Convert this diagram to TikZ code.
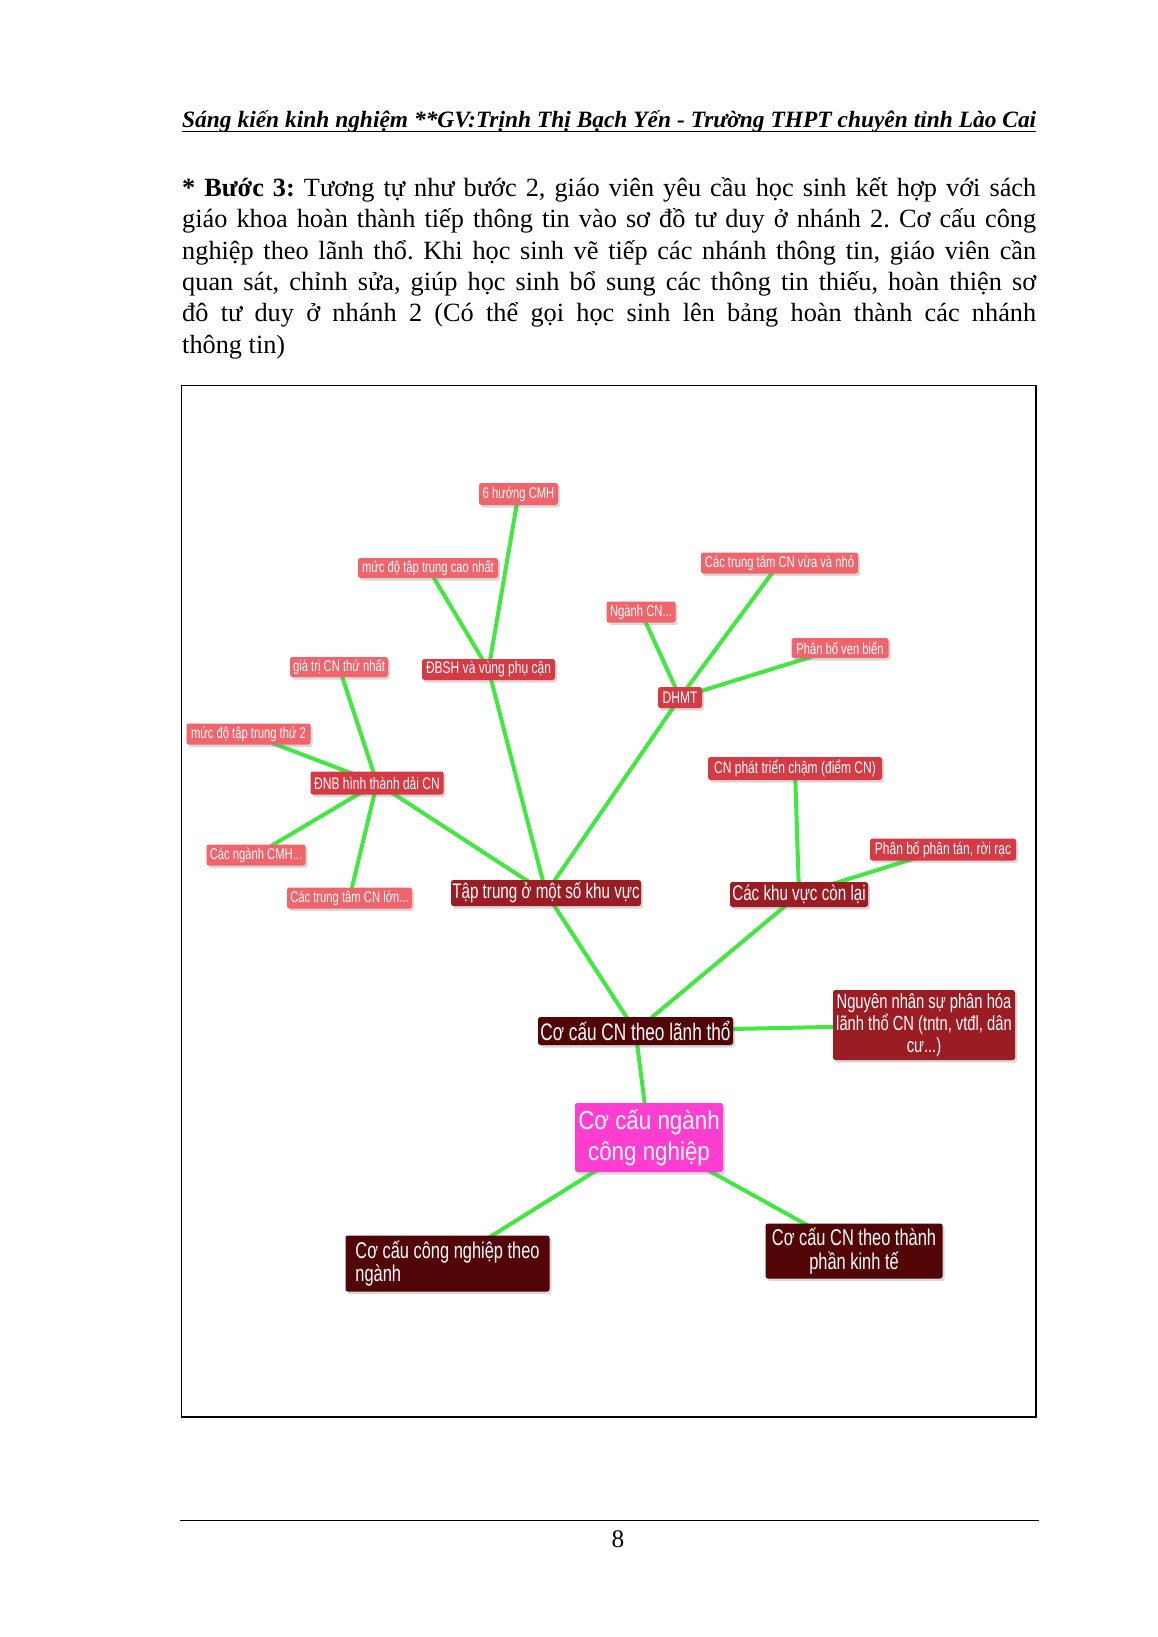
\documentclass[tikz,border=0pt]{standalone}
\usepackage{fontspec}
\setmainfont{Liberation Serif}
\newfontfamily\nar[FakeStretch=0.72]{Liberation Sans}
\newfontfamily\narm[FakeStretch=0.86]{Liberation Sans}
\usetikzlibrary{shadows,backgrounds}
\definecolor{lightred}{HTML}{F0646C}
\definecolor{medred}{HTML}{D63A44}
\definecolor{darkred}{HTML}{9B1D23}
\definecolor{vdark}{HTML}{520507}
\definecolor{mag}{HTML}{FF3DD0}
\definecolor{lgreen}{HTML}{40E840}
\tikzset{
  mbox/.style={rounded corners=2.5pt, text=white, inner sep=0pt,
    drop shadow={shadow xshift=2pt, shadow yshift=-2.5pt, opacity=0.3}},
  lt/.style={mbox, fill=lightred, font=\nar\fontsize{15.6}{17}\selectfont},
  md/.style={mbox, fill=medred, font=\nar\fontsize{16.7}{18}\selectfont},
  dk/.style={mbox, fill=darkred, font=\nar\fontsize{21.1}{23}\selectfont},
  vd/.style={mbox, fill=vdark},
  link/.style={draw=lgreen, line width=4pt},
  sz/.style 2 args={minimum width=#1pt, minimum height=#2pt},
  bodyline/.style={anchor=base west, inner sep=0pt, font=\fontsize{26.3}{31.3}\selectfont\frenchspacing},
}
\begin{document}
\begin{tikzpicture}[x=1pt,y=-1pt]
\useasboundingbox (0,0) rectangle (1158,1637);
\begin{scope}[on background layer]
\fill[white] (0,0) rectangle (1158,1637);
\end{scope}

% header
\node[anchor=base west, inner sep=0pt, font=\fontsize{23.4}{28}\selectfont\bfseries\itshape] (hdr) at (182,128)
  {\makebox[854pt][s]{Sáng kiến kinh nghiệm **GV:Trịnh Thị Bạch Yến - Trường THPT chuyên tỉnh Lào Cai}};
\draw[line width=1.3pt] ([yshift=-3.5pt]hdr.base west) -- ([yshift=-3.5pt]hdr.base east);

% body text
\node[bodyline] (b1) at (182,196.5) {\makebox[854pt][s]{\textbf{* Bước 3:} Tương tự như bước 2, giáo viên yêu cầu học sinh kết hợp với sách}};
\node[bodyline] (b2) at (182,227.8) {\makebox[854pt][s]{giáo khoa hoàn thành tiếp thông tin vào sơ đồ tư duy ở nhánh 2. Cơ cấu công}};
\node[bodyline] (b3) at (182,259.1) {\makebox[854pt][s]{nghiệp theo lãnh thổ. Khi học sinh vẽ tiếp các nhánh thông tin, giáo viên cần}};
\node[bodyline] (b4) at (182,290.4) {\makebox[854pt][s]{quan sát, chỉnh sửa, giúp học sinh bổ sung các thông tin thiếu, hoàn thiện sơ}};
\node[bodyline] (b5) at (182,321.7) {\makebox[854pt][s]{đô tư duy ở nhánh 2 (Có thể gọi học sinh lên bảng hoàn thành các nhánh}};
\node[bodyline] (b6) at (182,353) {thông tin)};

% frame
\draw[line width=1.5pt] (181.7,385.3) rectangle (1035.9,1417);

% footer
\draw[line width=1.2pt] (179.6,1520.4) -- (1039,1520.4);
\node[anchor=base, inner sep=0pt, font=\fontsize{25.3}{30}\selectfont] (pg) at (618,1547.5) {8};

% mind map nodes
\node[lt, sz={79}{22}] (n6h) at (518.5,494) {6 hướng CMH};
\node[lt, sz={140}{20}] (nmuc1) at (428,568) {mức độ tập trung cao nhất};
\node[md, sz={133}{21}] (nbsh) at (488.5,669.5) {ĐBSH và vùng phụ cận};
\node[lt, sz={98}{20}] (ngt) at (339,667) {giá trị CN thứ nhất};
\node[md, sz={44}{21}] (ndhmt) at (680,697.5) {DHMT};
\node[lt, sz={69}{21}] (nnganh) at (641,612) {Ngành CN...};
\node[lt, sz={157}{21}] (nvua) at (779.5,563) {Các trung tâm CN vừa và nhỏ};
\node[lt, sz={97}{20}] (nven) at (840,648) {Phân bố ven biển};
\node[lt, sz={124}{21}] (nmuc2) at (248.5,734) {mức độ tập trung thứ 2};
\node[md, sz={133}{23}] (ndnb) at (377,783) {ĐNB hình thành dải CN};
\node[lt, sz={99}{21}] (ncmh) at (256,855) {Các ngành CMH...};
\node[lt, sz={125}{21}] (nlon) at (349.5,898) {Các trung tâm CN lớn...};
\node[dk, sz={190}{26}] (ntap) at (546,893) {Tập trung ở một số khu vực};
\node[md, sz={174}{23}] (ncham) at (795,768.5) {CN phát triển chậm (điểm CN)};
\node[md, sz={146}{22}] (nphantan) at (943,849.5) {Phân bố phân tán, rời rạc};
\node[dk, sz={138}{25}] (nconlai) at (799,894.5) {Các khu vực còn lại};
\node[vd, sz={195}{28}, font=\nar\fontsize{23.9}{26}\selectfont] (nlt) at (635.5,1031) {Cơ cấu CN theo lãnh thổ};
\node[dk, sz={182}{70}, align=center, font=\nar\fontsize{20.5}{21.7}\selectfont] (nnn) at (924,1025)
  {Nguyên nhân sự phân hóa\\lãnh thổ CN (tntn, vtđl, dân\\cư...)};
\node[mbox, fill=mag, sz={148}{69}, align=center, font=\narm\fontsize{26}{30.7}\selectfont] (ncc) at (649,1137.5)
  {Cơ cấu ngành\\công nghiệp};
\node[vd, sz={177}{55}, align=center, font=\nar\fontsize{22.8}{23.5}\selectfont] (ntp) at (854,1251)
  {Cơ cấu CN theo thành\\phần kinh tế};
\node[vd, sz={204}{56}, align=left, font=\nar\fontsize{22.8}{23.5}\selectfont] (nng) at (447.5,1263.5)
  {Cơ cấu công nghiệp theo\\ngành};

% connectors
\begin{scope}[on background layer]
\foreach \a/\b in {n6h/nbsh, nmuc1/nbsh, nbsh/ntap, ngt/ndnb, nmuc2/ndnb, ndnb/ncmh, ndnb/nlon, ndnb/ntap,
  ndhmt/nnganh, ndhmt/nvua, ndhmt/nven, ndhmt/ntap, ncham/nconlai, nphantan/nconlai,
  ntap/nlt, nconlai/nlt, nlt/nnn, nlt/ncc, ncc/nng, ncc/ntp}
  \draw[link] (\a.center) -- (\b.center);
\end{scope}
\end{tikzpicture}
\end{document}
